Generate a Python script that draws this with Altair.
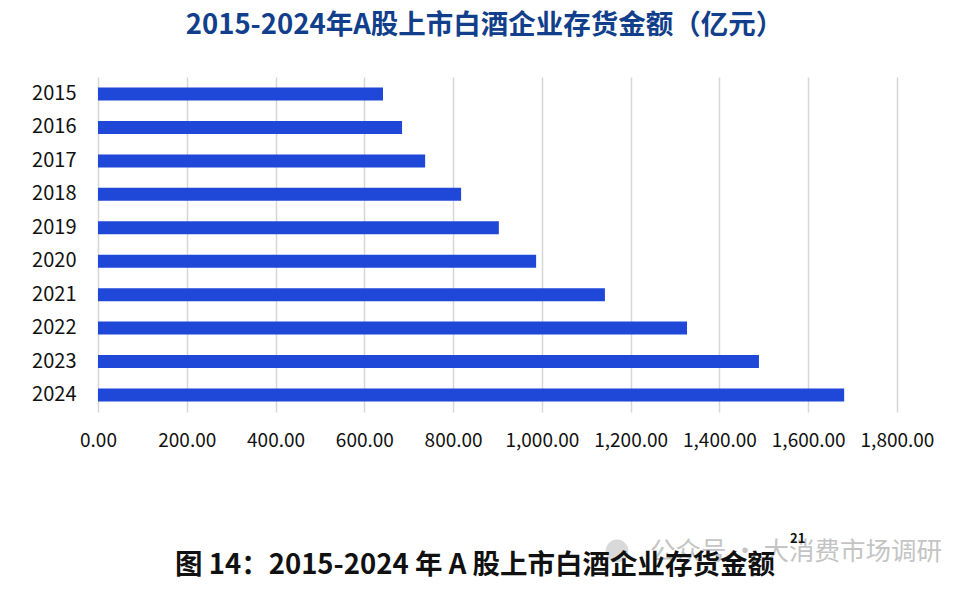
import altair as alt
import pandas as pd

years = ["2015", "2016", "2017", "2018", "2019", "2020", "2021", "2022", "2023", "2024"]
values = [642, 685, 737, 818, 903, 987, 1142, 1327, 1489, 1681]
x_ticks = [0, 200, 400, 600, 800, 1000, 1200, 1400, 1600, 1800]

title_text = "2015-2024年A股上市白酒企业存货金额（亿元）"
caption_text = "图 14：2015-2024 年 A 股上市白酒企业存货金额"
caption_sup = "21"
watermark_text = "公众号 · 大消费市场调研"

FONT = "Noto Sans CJK SC"

df = pd.DataFrame({"year": years, "value": values})

bars = alt.Chart(df).mark_bar(color="#1f47d8").encode(
    y=alt.Y(
        "year:N",
        sort=None,
        scale=alt.Scale(paddingInner=0.61, paddingOuter=0.315),
        axis=alt.Axis(
            title=None, ticks=False, domain=False, labelFontSize=20,
            labelPadding=22, labelColor="#111111", labelFont=FONT,
        ),
    ),
    x=alt.X(
        "value:Q",
        scale=alt.Scale(domain=[0, 1800], nice=False),
        axis=alt.Axis(
            values=x_ticks, format=",.2f", title=None, grid=True,
            gridColor="#d6d6d6", gridWidth=1.5, domain=False, ticks=False,
            labelPadding=19, labelFontSize=19, labelColor="#111111",
            labelFont=FONT, labelFlush=False,
        ),
    ),
)

one = pd.DataFrame({"k": [0]})

wm_icon = alt.Chart(one).mark_point(
    shape="circle", filled=True, color="#cfcfcf", opacity=0.8, size=520,
).encode(x=alt.value(519), y=alt.value(474))

wm = alt.Chart(one).mark_text(
    text=watermark_text, font=FONT, fontSize=25.5,
    color="#c4c4c4", align="left", baseline="middle",
).encode(x=alt.value(552), y=alt.value(475))

caption = alt.Chart(one).mark_text(
    text=caption_text, font=FONT, fontSize=27.5, fontWeight="bold",
    color="#111111", align="left", baseline="middle",
).encode(x=alt.value(77), y=alt.value(489))

sup = alt.Chart(one).mark_text(
    text=caption_sup, font=FONT, fontSize=13, fontWeight="bold",
    color="#111111", align="left", baseline="middle",
).encode(x=alt.value(692), y=alt.value(462))

chart = alt.layer(bars, wm_icon, wm, caption, sup).properties(
    width=799,
    height=335,
    padding={"left": 90, "top": 69, "right": 67, "bottom": 171},
    autosize=alt.AutoSizeParams(type="none"),
    background="white",
    title=alt.TitleParams(
        text=title_text, font=FONT, fontSize=27.5, fontWeight="bold",
        color="#123f8c", anchor="middle", offset=38, dx=-13,
    ),
).configure_view(stroke=None)

chart.save("out.html", embed_options={"renderer": "svg", "actions": False})
